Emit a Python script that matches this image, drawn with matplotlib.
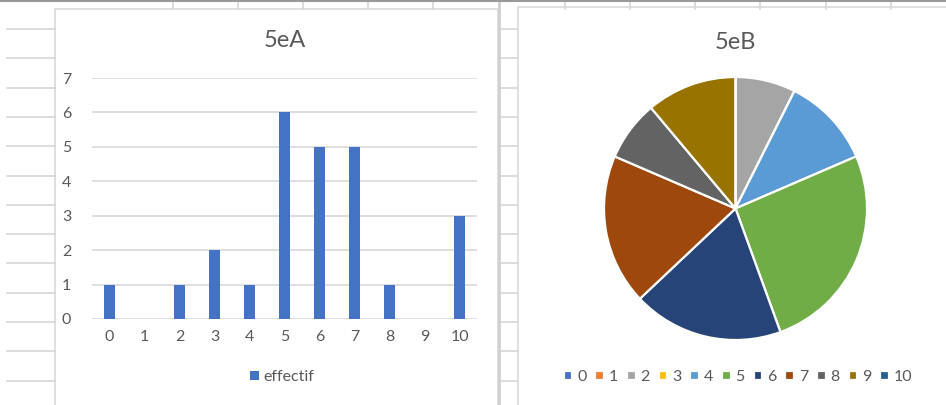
import numpy as np
import matplotlib
matplotlib.use("Agg")
import matplotlib.pyplot as plt
from matplotlib.patches import Rectangle

plt.rcParams['font.family'] = ['Lato', 'DejaVu Sans']

# Données
notes = ['0', '1', '2', '3', '4', '5', '6', '7', '8', '9', '10']
effectif_5eA = [1, 0, 1, 2, 1, 6, 5, 5, 1, 0, 3]
effectif_5eB = [0, 0, 2, 0, 3, 7, 5, 5, 2, 3, 0]

couleurs = ['#4472C4', '#ED7D31', '#A5A5A5', '#FFC000', '#5B9BD5', '#70AD47',
            '#264478', '#9E480E', '#636363', '#997300', '#255E91']
gris_texte = '#595959'

W, H = 946, 405
fig = plt.figure(figsize=(W / 100, H / 100), dpi=100)
fig.patch.set_facecolor('white')

# fond type tableur
bg = fig.add_axes([0, 0, 1, 1])
bg.set_xlim(0, W)
bg.set_ylim(H, 0)
bg.axis('off')
lignes_y = 29 + 29.3 * np.arange(13)
for y in lignes_y:
    bg.plot([7, 55], [y, y], color='#D6D6D6', lw=1.2)
    bg.plot([499, 518], [y, y], color='#D6D6D6', lw=1.2)
for x in [173, 238, 303, 368, 433, 565, 630, 695, 760, 826, 891]:
    bg.plot([x, x], [0, 9], color='#D6D6D6', lw=1.2)
bg.plot([499, 499], [0, H], color='#D0D0D0', lw=2)
bg.plot([0, W], [0.5, 0.5], color='#9A9A9A', lw=1.5)
bg.add_patch(Rectangle((55, 9), 443, 400, facecolor='white', edgecolor='#D9D9D9', lw=1.2))
bg.add_patch(Rectangle((518, 7), 440, 400, facecolor='white', edgecolor='#D9D9D9', lw=1.2))

# Graphique 5eA
ax1 = fig.add_axes([92 / W, (H - 319) / H, 385 / W, 241 / H])
x = np.arange(len(notes))
barres = ax1.bar(x, effectif_5eA, width=0.34, color='#4472C4', label='effectif', zorder=3)
ax1.set_xlim(-0.5, len(notes) - 0.5)
ax1.set_ylim(0, 7)
ax1.set_yticks(range(8))
ax1.set_xticks(x)
ax1.set_xticklabels(notes)
ax1.grid(axis='y', color='#D9D9D9', lw=1.2, zorder=0)
for s in ax1.spines.values():
    s.set_visible(False)
ax1.tick_params(length=0, colors=gris_texte, labelsize=11.5)
ax1.tick_params(axis='y', pad=15)
ax1.tick_params(axis='x', pad=8)
ax1.set_facecolor('none')
ax1.set_title('5eA', color=gris_texte, fontsize=17, pad=22)
fig.legend(handles=[barres], labels=['effectif'], loc='center', bbox_to_anchor=(282 / W, 1 - 377 / H),
           frameon=False, fontsize=11.5, labelcolor=gris_texte, handlelength=0.55,
           handleheight=0.55, handletextpad=0.25)

# Graphique 5eB
r = 131.5
ax2 = fig.add_axes([(735.5 - r) / W, (H - 208.5 - r) / H, 2 * r / W, 2 * r / H])
wedges, _ = ax2.pie(effectif_5eB, colors=couleurs, startangle=90, counterclock=False, radius=1,
                    wedgeprops=dict(edgecolor='white', linewidth=1.6))
ax2.set_xlim(-1, 1)
ax2.set_ylim(-1, 1)
ax2.set_aspect('equal')
ax2.set_title('5eB', color=gris_texte, fontsize=17, pad=20)
fig.legend(handles=wedges, labels=notes, loc='center', bbox_to_anchor=(738 / W, 1 - 377 / H),
           ncol=len(notes), frameon=False, fontsize=11.5, labelcolor=gris_texte,
           handlelength=0.55, handleheight=0.55, handletextpad=0.3, columnspacing=0.55)

fig.savefig('out.png', dpi=100)
